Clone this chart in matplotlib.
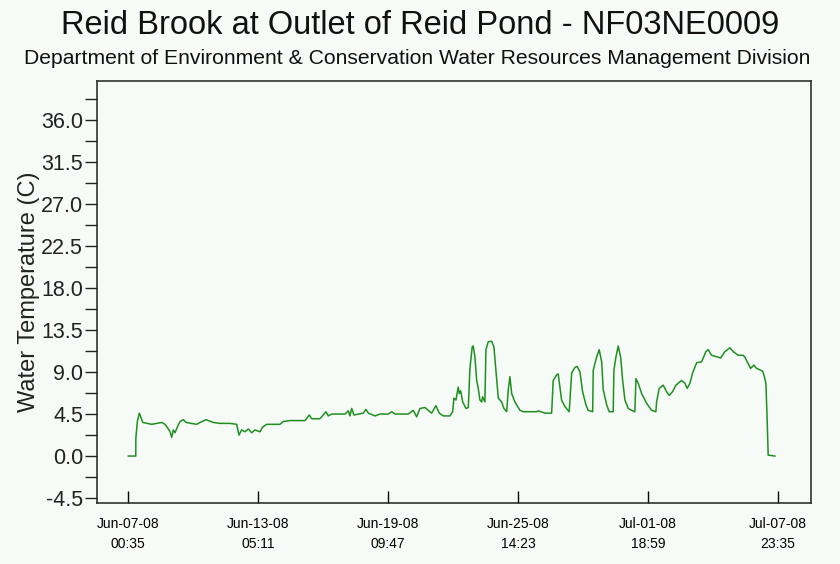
import pandas as pd
import matplotlib.pyplot as plt
from matplotlib.ticker import MultipleLocator

start = pd.Timestamp("2008-06-07 00:35")

# hours since start, water temperature (C)
hours = [0, 8.5, 8.6, 10.3, 12.6, 14.2, 16.5, 26.7, 38.2, 42.0, 45.7, 47.7, 49.6, 51.4,
         53.4, 56.0, 59.1, 62.9, 66.0, 78.2, 82.0, 88.8, 97.2, 104.8, 116.3, 123.9,
         126.5, 129.6, 133.4, 137.2, 141.1, 144.8, 150.5, 153.6, 158.2, 173.4, 177.2,
         184.8, 202.0, 206.9, 209.6, 219.1, 226.0, 228.6, 232.5, 247.7, 251.5, 253.4,
         255.4, 258.0, 268.6, 271.7, 274.4, 282.0, 287.7, 297.2, 301.1, 304.9, 320.1,
         325.8, 329.7, 333.4, 339.2, 342.9, 346.8, 351.7, 355.5, 360.1, 367.7, 370.8,
         372.3, 374.6, 377.2, 378.4, 380.0, 382.3, 386.0, 388.7, 390.6, 393.2, 394.4,
         396.3, 398.3, 400.1, 402.0, 404.0, 405.1, 407.7, 408.9, 411.5, 415.4, 418.0,
         420.3, 423.0, 426.8, 429.5, 432.6, 434.4, 436.3, 438.3, 442.0, 447.8, 451.5,
         466.8, 468.6, 476.3, 484.0, 485.8, 489.7, 491.5, 493.5, 495.4, 499.2, 504.1,
         506.9, 510.6, 513.3, 516.4, 519.4, 523.2, 525.8, 530.9, 531.6, 535.4, 538.4,
         541.2, 543.0, 546.9, 549.8, 554.4, 555.2, 557.5, 560.1, 562.9, 565.2, 567.8,
         571.6, 575.4, 579.2, 580.4, 583.0, 586.9, 592.6, 598.3, 603.2, 604.0, 607.0,
         611.6, 615.4, 618.4, 622.3, 626.1, 632.6, 636.4, 639.0, 642.1, 645.2, 649.8,
         655.5, 660.4, 663.0, 666.9, 674.4, 677.2, 682.1, 687.8, 691.6, 697.3, 703.0,
         705.0, 708.7, 711.5, 715.3, 718.3, 725.2, 726.7, 729.0, 730.5, 731.6, 739.3]
temps = [0, 0, 1.9, 3.7, 4.6, 4.2, 3.6, 3.4, 3.6, 3.4, 2.9, 2.6, 2.0, 2.8,
         2.5, 3.1, 3.7, 3.9, 3.6, 3.4, 3.6, 3.9, 3.6, 3.5, 3.5, 3.4,
         2.25, 2.8, 2.6, 2.9, 2.5, 2.8, 2.6, 3.1, 3.4, 3.4, 3.7,
         3.8, 3.8, 4.4, 4.0, 4.0, 4.75, 4.3, 4.5, 4.5, 4.85, 4.3,
         5.1, 4.4, 4.6, 5.0, 4.6, 4.3, 4.5, 4.5, 4.75, 4.5, 4.5,
         4.9, 4.2, 5.1, 5.2, 4.9, 4.6, 5.4, 4.6, 4.3, 4.3, 4.75,
         6.2, 6.0, 7.4, 6.7, 7.0, 5.8, 5.1, 5.2, 9.4, 11.7, 11.8,
         10.6, 8.1, 7.25, 6.0, 5.8, 6.35, 5.8, 11.4, 12.25, 12.3, 11.7,
         9.2, 6.2, 5.8, 5.1, 4.75, 7.1, 8.5, 6.7, 5.8, 4.9, 4.75,
         4.75, 4.85, 4.6, 4.6, 8.1, 8.7, 8.8, 7.4, 6.0, 5.3, 4.75,
         8.9, 9.5, 9.6, 9.0, 6.9, 5.5, 4.9, 4.75, 9.2, 10.6, 11.4,
         10.1, 7.1, 5.5, 4.75, 4.75, 9.2, 10.6, 11.8, 10.6, 8.1, 6.0,
         5.1, 4.9, 4.75, 8.3, 7.8, 6.7, 5.65, 4.9, 4.75, 5.8, 7.25,
         7.6, 6.9, 6.5, 6.9, 7.6, 8.1, 7.8, 7.25, 7.8, 8.9, 10.0,
         10.1, 11.2, 11.4, 10.8, 10.6, 10.5, 11.2, 11.6, 11.2, 10.8, 10.8,
         10.6, 9.9, 9.4, 9.75, 9.4, 9.1, 8.7, 7.8, 3.7, 0.1, 0.0]

tick_hours = [0, 148.6, 297.2, 445.8, 594.4, 743.0]
tick_labels = ["Jun-07-08\n00:35", "Jun-13-08\n05:11", "Jun-19-08\n09:47",
               "Jun-25-08\n14:23", "Jul-01-08\n18:59", "Jul-07-08\n23:35"]

times = start + pd.to_timedelta(hours, unit="h")
ticks = start + pd.to_timedelta(tick_hours, unit="h")

bg = "#f6fbf8"
plt.rcParams["font.family"] = ["Liberation Sans", "DejaVu Sans"]

fig = plt.figure(figsize=(8.4, 5.64), dpi=100, facecolor=bg)
ax = fig.add_axes([0.1155, 0.1087, 0.8495, 0.7477], facecolor=bg)

ax.plot(times, temps, color="#1f901f", linewidth=1.1)

ax.set_ylim(-5.0, 40.2)
ax.set_xlim(start - pd.Timedelta(hours=35.8), start + pd.Timedelta(hours=780.1))
ax.yaxis.set_major_locator(MultipleLocator(4.5))
ax.yaxis.set_minor_locator(MultipleLocator(2.25))
ax.yaxis.set_major_formatter(plt.FuncFormatter(lambda v, _: f"{v:.1f}"))
ax.tick_params(axis="y", which="both", direction="out", length=8.5, width=1.0,
               labelsize=15.5, pad=1.5, colors="#222222")
ax.set_xticks(ticks)
ax.set_xticklabels(tick_labels, fontsize=10, linespacing=1.55)
ax.tick_params(axis="x", direction="in", length=8.5, width=1.0, pad=10.5)
ax.xaxis.set_minor_locator(plt.NullLocator())

for s in ax.spines.values():
    s.set_linewidth(1.1)
    s.set_color("#222222")

ax.set_ylabel("Water Temperature (C)", fontsize=17, labelpad=1, color="#222222")

fig.text(0.5, 0.983, "Reid Brook at Outlet of Reid Pond - NF03NE0009",
         ha="center", va="top", fontsize=23.5, color="#111111")
fig.text(0.497, 0.897, "Department of Environment & Conservation Water Resources Management Division",
         ha="center", va="center", fontsize=15.2, color="#111111")

plt.savefig("out.png", dpi=100, facecolor=bg)
plt.close()
